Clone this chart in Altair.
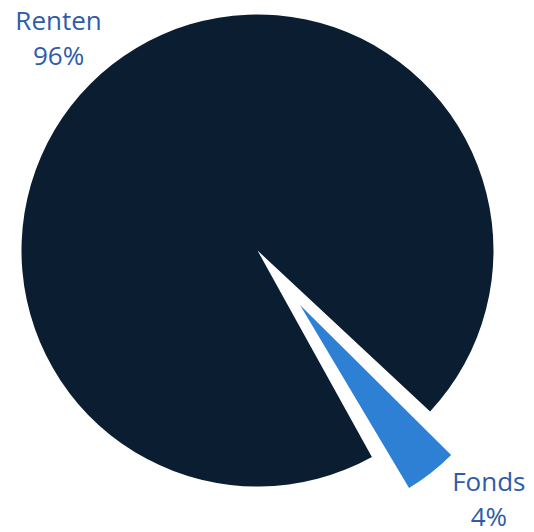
import math
import altair as alt
import pandas as pd

categories = ["Renten", "Fonds"]
values = [96, 4]
colors = ["#0b1e31", "#2d80d3"]

df = pd.DataFrame({"cat": categories, "value": values, "color": colors})

start_deg = 149.2
theta_scale = alt.Scale(domain=[0, 100],
                        range=[math.radians(start_deg), math.radians(start_deg) + 2 * math.pi])

base = alt.Chart(df).transform_window(
    cum="sum(value)", frame=[None, 0]
).transform_calculate(
    start="datum.cum - datum.value",
    mid="datum.cum - datum.value / 2",
    label="[datum.cat, datum.value + '%']",
)

dark = base.transform_filter(alt.datum.cat == "Renten").mark_arc(
    outerRadius=236, padAngle=0.063, color=colors[0]
).encode(
    theta=alt.Theta("start:Q", scale=theta_scale),
    theta2="cum:Q",
)

blue = base.transform_filter(alt.datum.cat == "Fonds").mark_arc(
    outerRadius=213, xOffset=42.5, yOffset=54.5, color=colors[1]
).encode(
    theta=alt.Theta("start:Q", scale=theta_scale),
    theta2="cum:Q",
)

text_style = dict(font="Open Sans", fontSize=26, color="#2f5ca8",
                  align="center", baseline="middle", lineHeight=35)

t_renten = base.transform_filter(alt.datum.cat == "Renten").mark_text(
    radius=289, dx=-21, dy=-1, **text_style
).encode(
    theta=alt.Theta("mid:Q", scale=theta_scale),
    text=alt.Text("label:N"),
)

t_fonds = base.transform_filter(alt.datum.cat == "Fonds").mark_text(
    radius=340, dx=22, dy=-35, **text_style
).encode(
    theta=alt.Theta("mid:Q", scale=theta_scale),
    text=alt.Text("label:N"),
)

chart = alt.layer(dark, blue, t_renten, t_fonds).properties(
    width=499, height=485,
    padding={"left": 0, "top": 0, "right": 19, "bottom": 39},
    autosize=alt.AutoSizeParams(type="none"),
).configure_view(stroke=None)

chart.save("out.html", embed_options={"renderer": "svg", "actions": False})
